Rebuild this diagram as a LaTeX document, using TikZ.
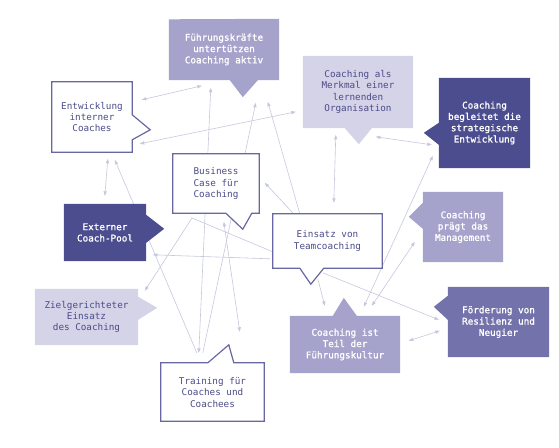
\documentclass[tikz,border=0pt]{standalone}
\usepackage{fontspec}
\setmainfont{DejaVu Sans Mono}
\newfontfamily\semibold{DejaVu Sans Mono}[FakeBold=1.2]
\usetikzlibrary{arrows.meta}
\definecolor{cdark}{HTML}{4B4D8E}
\definecolor{cmid}{HTML}{A5A3CB}
\definecolor{cfoe}{HTML}{7472AA}
\definecolor{clight}{HTML}{D4D3E8}
\definecolor{cborder}{HTML}{6866A3}
\definecolor{ctext}{HTML}{4B4B8A}
\definecolor{cline}{HTML}{C6C7DC}
\pgfdeclarelayer{conn}
\pgfdeclarelayer{boxes}
\pgfsetlayers{conn,boxes,main}
\begin{document}
\begin{tikzpicture}[x=1pt,y=-1pt,
  lbl/.style={rectangle, inner sep=0pt, align=center, font=\fontsize{9.3}{11.3}\selectfont},
  ondark/.style={lbl, text=white, font=\fontsize{9.3}{11.3}\selectfont\semibold},
  onlight/.style={lbl, text=ctext},
  wbox/.style={fill=white, draw=cborder, line width=1.2pt, line join=miter},
  fdark/.style={fill=cdark},
  fmid/.style={fill=cmid},
  ffoe/.style={fill=cfoe},
  flight/.style={fill=clight},
  conn/.style={draw=cline, line width=0.6pt},
  cboth/.style={conn, {Triangle[length=4.5pt,width=3.2pt]}-{Triangle[length=4.5pt,width=3.2pt]}},
  cone/.style={conn, -{Triangle[length=4.5pt,width=3.2pt]}}
]
\useasboundingbox (0,0) rectangle (559,447);

% ---------- nodes (text) ----------
\node[ondark, minimum width=110pt, minimum height=61pt] (fuhr) at (224,49.5) {Führungskräfte\\untertützen\\Coaching aktiv};
\node[onlight, minimum width=80pt, minimum height=70pt] (entw) at (92,117) {Entwicklung\\interner\\Coaches};
\node[onlight, minimum width=86pt, minimum height=59pt] (bus) at (216,183.5) {Business\\Case für\\Coaching};
\node[onlight, minimum width=110pt, minimum height=72pt] (merk) at (358,92) {Coaching als\\Merkmal einer\\lernenden\\Organisation};
\node[ondark, minimum width=91pt, minimum height=90pt] (begl) at (484.5,123) {Coaching\\begleitet die\\strategische\\Entwicklung};
\node[ondark, minimum width=80pt, minimum height=70pt] (mgmt) at (463,227) {Coaching\\prägt das\\Management};
\node[onlight, minimum width=109pt, minimum height=54pt] (eins) at (327.5,241) {Einsatz von\\Teamcoaching};
\node[ondark, minimum width=110pt, minimum height=57pt] (kult) at (345,344.5) {Coaching ist\\Teil der\\Führungskultur};
\node[ondark, minimum width=101pt, minimum height=70pt] (foerd) at (498.5,322) {Förderung von\\Resilienz und\\Neugier};
\node[ondark, minimum width=82pt, minimum height=57pt] (ext) at (105,232.5) {Externer\\Coach-Pool};
\node[onlight, minimum width=103pt, minimum height=56pt] (ziel) at (86.5,317) {Zielgerichteter\\Einsatz\\des Coaching};
\node[onlight, minimum width=103pt, minimum height=57pt] (train) at (212.5,392.5) {Training für\\Coaches und\\Coachees};

% ---------- callout shapes ----------
\begin{pgfonlayer}{boxes}
\path[fmid] ([shift={(0,0.5)}]fuhr.north west) coordinate (fnw) -- (fuhr.north east) -- (fuhr.south east)
  -- ([shift={(89,0)}]fuhr.south west) -- ([shift={(74,17)}]fuhr.south west)
  -- ([shift={(61,0)}]fuhr.south west) -- (fuhr.south west) -- cycle;
\path[wbox] (entw.north west) -- (entw.north east) -- ([shift={(0,33)}]entw.north east)
  -- ([shift={(18,48)}]entw.north east) -- ([shift={(0,58)}]entw.north east)
  -- (entw.south east) -- (entw.south west) -- cycle;
\path[wbox] (bus.north west) -- (bus.north east) -- (bus.south east)
  -- ([shift={(79,0)}]bus.south west) -- ([shift={(70,16)}]bus.south west)
  -- ([shift={(53,0)}]bus.south west) -- (bus.south west) -- cycle;
\path[flight] (merk.north west) -- (merk.north east) -- (merk.south east)
  -- ([shift={(69,0)}]merk.south west) -- ([shift={(56,16)}]merk.south west)
  -- ([shift={(42,0)}]merk.south west) -- (merk.south west) -- cycle;
\path[fdark] (begl.north west) -- (begl.north east) -- (begl.south east) -- (begl.south west)
  -- ([shift={(0,67)}]begl.north west) -- ([shift={(-15,55)}]begl.north west)
  -- ([shift={(0,45)}]begl.north west) -- cycle;
\path[fmid] (mgmt.north west) -- (mgmt.north east) -- (mgmt.south east) -- (mgmt.south west)
  -- ([shift={(0,37)}]mgmt.north west) -- ([shift={(-14,25)}]mgmt.north west)
  -- ([shift={(0,11)}]mgmt.north west) -- cycle;
\path[wbox] (eins.north west) -- (eins.north east) -- (eins.south east)
  -- ([shift={(51,0)}]eins.south west) -- ([shift={(38,16)}]eins.south west)
  -- ([shift={(27,0)}]eins.south west) -- (eins.south west) -- cycle;
\path[fmid] (kult.north west) -- ([shift={(43,0)}]kult.north west)
  -- ([shift={(54,-18)}]kult.north west) -- ([shift={(67,0)}]kult.north west)
  -- (kult.north east) -- (kult.south east) -- (kult.south west) -- cycle;
\path[ffoe] (foerd.north west) -- (foerd.north east) -- (foerd.south east) -- (foerd.south west)
  -- ([shift={(0,33)}]foerd.north west) -- ([shift={(-14,20)}]foerd.north west)
  -- ([shift={(0,9)}]foerd.north west) -- cycle;
\path[fdark] (ext.north west) -- (ext.north east) -- ([shift={(0,11)}]ext.north east)
  -- ([shift={(18,25)}]ext.north east) -- ([shift={(0,39)}]ext.north east)
  -- (ext.south east) -- (ext.south west) -- cycle;
\path[flight] (ziel.north west) -- (ziel.north east) -- ([shift={(0,8)}]ziel.north east)
  -- ([shift={(19,19)}]ziel.north east) -- ([shift={(0,31)}]ziel.north east)
  -- (ziel.south east) -- (ziel.south west) -- cycle;
\path[wbox] ([shift={(0,-1)}]train.north west) -- ([shift={(47,-1)}]train.north west)
  -- ([shift={(68,-19)}]train.north west) -- ([shift={(73,-1)}]train.north west)
  -- ([shift={(0,-1)}]train.north east) -- (train.south east) -- (train.south west) -- cycle;
\end{pgfonlayer}

% ---------- connectors ----------
\begin{pgfonlayer}{conn}
\coordinate (bend) at (192,218);
\draw[cboth] ([shift={(90,18)}]entw.north west) -- ([shift={(33,67)}]fuhr.north west);
\draw[cboth] ([shift={(88,62)}]entw.north west) -- ([shift={(-7,56)}]merk.north west);
\draw[cboth] ([shift={(56,77)}]entw.north west) -- ([shift={(41,-8)}]ext.north west);
\draw[cone] ([shift={(36,-11)}]train.north west) -- ([shift={(63,78)}]entw.north west);
\draw[cboth] ([shift={(42,69)}]fuhr.north west) -- ([shift={(38,-11)}]train.north west);
\draw[cone] ([shift={(42,-11)}]train.north west) -- ([shift={(87,84)}]fuhr.north west);
\draw[cone] ([shift={(27,0)}]eins.north west) -- ([shift={(99,83)}]fuhr.north west);
\draw[cone] ([shift={(20,-1)}]eins.north west) -- ([shift={(92,29)}]bus.north west);
\draw[cboth] ([shift={(33,79)}]merk.north west) -- ([shift={(61,-11)}]eins.north west);
\draw[cboth] ([shift={(73,81)}]merk.north west) -- ([shift={(-7,67)}]begl.north west);
\draw[cboth] ([shift={(-6,78)}]begl.north west) -- ([shift={(74,-9)}]kult.north west);
\draw[cboth] ([shift={(-8,50)}]mgmt.north west) -- ([shift={(82,-10)}]kult.north west);
\draw[cone] ([shift={(45,65)}]eins.north west) -- ([shift={(35,-10)}]kult.north west);
\draw[cone] ([shift={(50,59)}]eins.north west) -- ([shift={(-9,33)}]foerd.north west);
\draw[cboth] ([shift={(119,25)}]kult.north west) -- ([shift={(-8,44)}]foerd.north west);
\draw[cone] ([shift={(0,38)}]eins.north west) -- (bend) -- ([shift={(110,2)}]ziel.north west);
\draw[cone] ([shift={(-3,45)}]eins.north west) -- ([shift={(89,51)}]ext.north west);
\draw[cboth] ([shift={(51,68)}]bus.north west) -- ([shift={(79,-32)}]train.north west);
\end{pgfonlayer}
\end{tikzpicture}
\end{document}
